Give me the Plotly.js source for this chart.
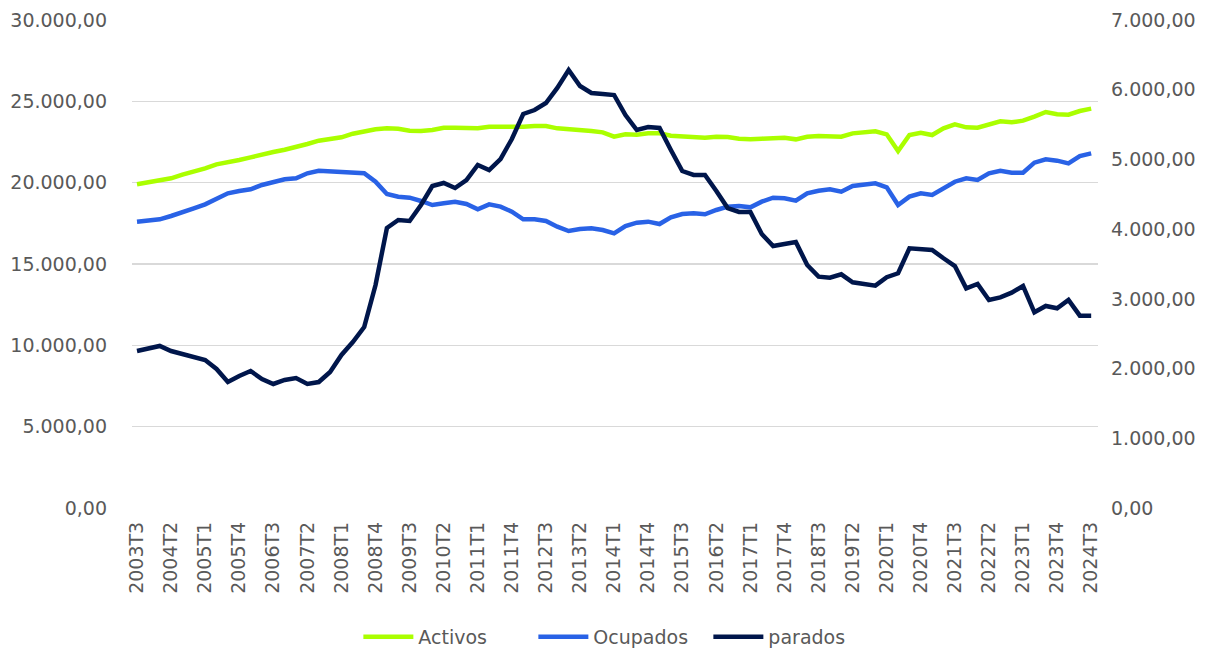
<!DOCTYPE html>
<html>
<head>
<meta charset="utf-8">
<script src="https://cdn.plot.ly/plotly-3.0.1.min.js"></script>
<style>
html, body { margin: 0; padding: 0; background: #fff; }
#chart { width: 1215px; height: 648px; }
</style>
</head>
<body>
<div id="chart"></div>
<script>
const quarters = [
  "2003T3","2003T4","2004T1","2004T2","2004T3","2004T4","2005T1","2005T2","2005T3","2005T4",
  "2006T1","2006T2","2006T3","2006T4","2007T1","2007T2","2007T3","2007T4","2008T1","2008T2",
  "2008T3","2008T4","2009T1","2009T2","2009T3","2009T4","2010T1","2010T2","2010T3","2010T4",
  "2011T1","2011T2","2011T3","2011T4","2012T1","2012T2","2012T3","2012T4","2013T1","2013T2",
  "2013T3","2013T4","2014T1","2014T2","2014T3","2014T4","2015T1","2015T2","2015T3","2015T4",
  "2016T1","2016T2","2016T3","2016T4","2017T1","2017T2","2017T3","2017T4","2018T1","2018T2",
  "2018T3","2018T4","2019T1","2019T2","2019T3","2019T4","2020T1","2020T2","2020T3","2020T4",
  "2021T1","2021T2","2021T3","2021T4","2022T1","2022T2","2022T3","2022T4","2023T1","2023T2",
  "2023T3","2023T4","2024T1","2024T2","2024T3"
];

const tickLabels = [
  "2003T3","2004T2","2005T1","2005T4","2006T3","2007T2","2008T1","2008T4","2009T3","2010T2",
  "2011T1","2011T4","2012T3","2013T2","2014T1","2014T4","2015T3","2016T2","2017T1","2017T4",
  "2018T3","2019T2","2020T1","2020T4","2021T3","2022T2","2023T1","2023T4","2024T3"
];

const activos = [
  19900, 20022, 20100, 20268, 20490, 20675, 20883, 21128, 21229, 21393,
  21557, 21743, 21885, 22026, 22172, 22377, 22580, 22684, 22789, 23011,
  23158, 23280, 23342, 23318, 23195, 23176, 23238, 23380, 23380, 23360,
  23340, 23442, 23442, 23401, 23442, 23483, 23483, 23340, 23299, 23238,
  23176, 23094, 22826, 22971, 22950, 23032, 23032, 22888, 22826, 22806,
  22765, 22826, 22806, 22703, 22663, 22703, 22745, 22765, 22663, 22826,
  22868, 22868, 22826, 23032, 23073, 23155, 22971, 21947, 22930, 23073,
  22930, 23340, 23586, 23401, 23380, 23607, 23770, 23709, 23811, 24057,
  24344, 24203, 24180, 24406, 24549
];

const ocupados = [
  17600, 17705, 17746, 17951, 18215, 18423, 18669, 19038, 19346, 19488,
  19592, 19856, 20059, 20207, 20268, 20576, 20736, 20699, 20613, 20613,
  20576, 20059, 19303, 19139, 19076, 18873, 18627, 18730, 18830, 18688,
  18361, 18669, 18525, 18215, 17746, 17746, 17643, 17295, 17029, 17152,
  17193, 17090, 16886, 17336, 17540, 17602, 17459, 17869, 18074, 18115,
  18054, 18320, 18525, 18566, 18484, 18830, 19076, 19038, 18894, 19346,
  19506, 19592, 19447, 19795, 19856, 19960, 19715, 18627, 19139, 19346,
  19242, 19653, 20059, 20268, 20164, 20576, 20736, 20613, 20613, 21229,
  21434, 21352, 21188, 21639, 21803
];

const parados = [
  2252, 2281, 2324, 2252, 2209, 2180, 2123, 1994, 1807, 1894,
  1965, 1850, 1779, 1836, 1865, 1779, 1807, 1951, 2195, 2381,
  2596, 3199, 4017, 4131, 4117, 4346, 4619, 4662, 4590, 4705,
  4920, 4848, 5006, 5293, 5652, 5709, 5809, 6025, 6283, 6053,
  5953, 5939, 5924, 5637, 5422, 5465, 5451, 5135, 4834, 4777,
  4777, 4547, 4303, 4246, 4246, 3930, 3758, 3787, 3816, 3486,
  3318, 3304, 3352, 3237, 3213, 3189, 3310, 3367, 3725, 3720,
  3701, 3582, 3471, 3151, 3213, 2984, 3022, 3089, 3185, 2807,
  2898, 2865, 2984, 2759, 2759
];

const FONT = "'DejaVu Sans', 'Open Sans', sans-serif";
const GREY = "#595959";

const traces = [
  {
    x: quarters, y: activos, name: "Activos", type: "scatter", mode: "lines",
    line: { color: "#AAFF00", width: 4.5 },
    yaxis: "y"
  },
  {
    x: quarters, y: ocupados, name: "Ocupados", type: "scatter", mode: "lines",
    line: { color: "#2962E6", width: 4.5 },
    yaxis: "y"
  },
  {
    x: quarters, y: parados, name: "parados", type: "scatter", mode: "lines",
    line: { color: "#00164B", width: 4.5 },
    yaxis: "y2"
  }
];

const layout = {
  width: 1215, height: 648,
  margin: { l: 132, r: 117, t: 20, b: 140, pad: 0, autoexpand: false },
  paper_bgcolor: "#ffffff",
  plot_bgcolor: "#ffffff",
  separators: ",.",
  font: { family: FONT, size: 18, color: GREY },
  showlegend: true,
  legend: {
    orientation: "h",
    x: 0.511, xanchor: "center", xref: "container",
    y: 0.017, yanchor: "middle", yref: "container",
    font: { family: FONT, size: 19, color: GREY },
    traceorder: "normal",
    itemwidth: 50,
    entrywidth: 110,
    entrywidthmode: "pixels",
    bgcolor: "rgba(0,0,0,0)"
  },
  xaxis: {
    type: "category",
    automargin: false,
    range: [-0.44, 84.6],
    tickmode: "array",
    tickvals: tickLabels,
    ticktext: tickLabels,
    tickangle: -90,
    tickfont: { family: FONT, size: 19, color: GREY },
    showgrid: false,
    zeroline: false,
    showline: false,
    ticks: "",
    ticklabelstandoff: 9
  },
  yaxis: {
    automargin: false,
    range: [0, 30000],
    dtick: 5000,
    tick0: 0,
    tickformat: ",.2f",
    showgrid: true,
    gridcolor: "#D9D9D9",
    gridwidth: 1.5,
    zeroline: false,
    showline: false,
    ticks: "",
    ticklabelstandoff: 24,
    tickfont: { family: FONT, size: 19, color: GREY }
  },
  yaxis2: {
    automargin: false,
    overlaying: "y",
    side: "right",
    range: [0, 7000],
    dtick: 1000,
    tick0: 0,
    tickformat: ",.2f",
    showgrid: false,
    zeroline: false,
    showline: false,
    ticks: "",
    ticklabelstandoff: 12,
    tickfont: { family: FONT, size: 19, color: GREY }
  }
};

Plotly.newPlot("chart", traces, layout, { displayModeBar: false, staticPlot: true });
</script>
</body>
</html>
